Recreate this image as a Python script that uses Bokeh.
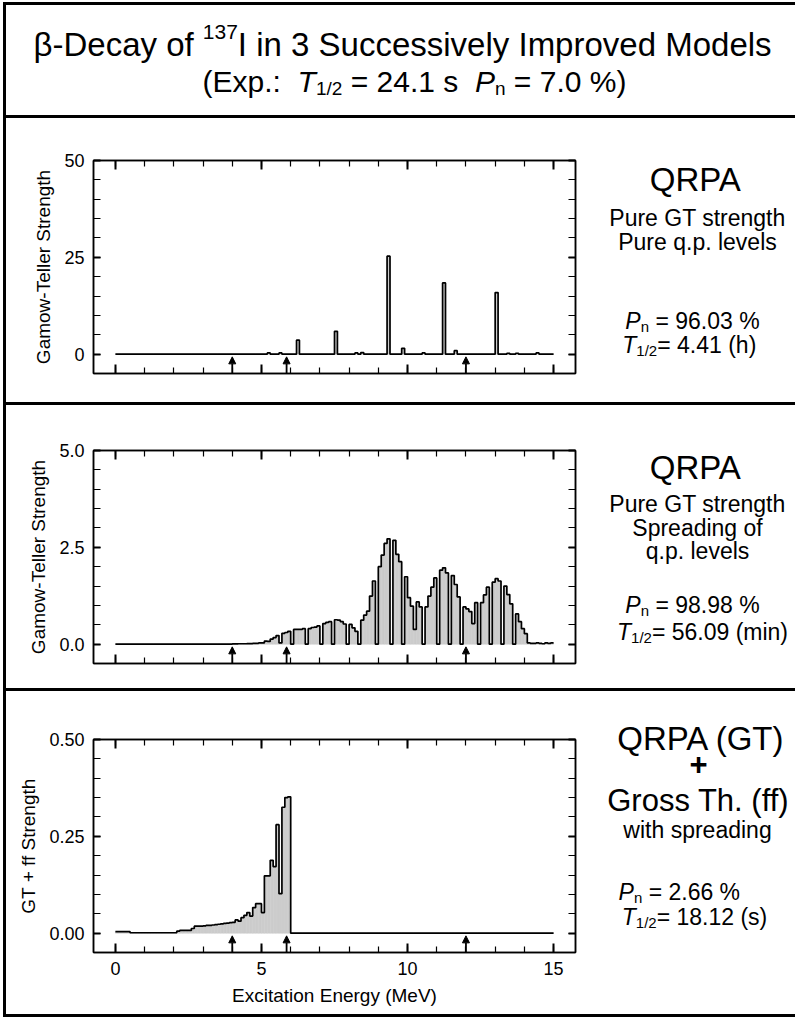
import numpy as np
from bokeh.plotting import figure
from bokeh.models import (Range1d, LinearAxis, FixedTicker, Label, Arrow, NormalHead,
                          Spacer, ColumnDataSource, NumeralTickFormatter, CustomJSTickFormatter)
from bokeh.layouts import column, row
from bokeh.embed import file_html
from bokeh.resources import INLINE

# ---------------- data ----------------
BIN_WIDTH = 0.1
N_BINS = 150            # 0 .. 15 MeV
X_TICKS = [0, 5, 10, 15]
ARROWS_E = [4.0, 5.86, 12.0]

# Panel 1: QRPA, pure GT strength, pure q.p. levels (bin start energy, strength)
P1_E = [5.2, 5.6, 6.2, 7.5, 8.2, 8.4, 9.3, 9.8, 10.5, 11.2, 11.6, 13.0, 13.4, 13.7, 14.4]
P1_S = [0.3, 0.3, 3.6, 5.9, 0.3, 0.4, 25.3, 1.5, 0.3, 18.4, 0.9, 15.9, 0.2, 0.2, 0.3]

# Panel 2: QRPA with spreading, bins of 0.1 MeV starting at 4.0 MeV
P2_START = 4.0
P2_S = [0.005, 0.005, 0.01, 0.01, 0.01, 0.015, 0.015, 0.02, 0.02, 0.03,
        0.03, 0.08, 0.07, 0.13, 0.17, 0.22, 0.03, 0.28, 0.30, 0.33,
        0.0, 0.38, 0.38, 0.38, 0.40, 0.0, 0.40, 0.43, 0.44, 0.47,
        0.0, 0.53, 0.56, 0.58, 0.0, 0.63, 0.62, 0.58, 0.52, 0.0,
        0.51, 0.42, 0.33, 0.0, 0.62, 0.75, 0.85, 1.24, 1.63, 0.0,
        2.0, 2.3, 2.6, 2.72, 0.0, 2.68, 2.32, 2.13, 0.0, 1.74,
        1.2, 0.98, 0.38, 1.09, 0.96, 0.0, 0.96, 1.24, 1.47, 1.71,
        0.0, 1.91, 1.97, 1.84, 0.0, 1.77, 1.54, 1.22, 0.0, 0.96,
        0.91, 0.84, 0.53, 1.07, 0.0, 1.07, 1.27, 1.47, 0.0, 1.60,
        1.69, 1.63, 0.0, 1.50, 1.28, 1.04, 0.0, 0.78, 0.58, 0.40,
        0.27, 0.03, 0.02, 0.02, 0.03, 0.02, 0.01, 0.03, 0.02, 0.03]

# Panel 3: QRPA (GT) + Gross Theory (ff), bins of 0.1 MeV starting at 0 MeV
P3_START = 0.0
P3_S = [0.004, 0.004, 0.004, 0.004, 0.004,
        0.001, 0.001, 0.001, 0.001, 0.001, 0.001, 0.001, 0.001,
        0.001, 0.001, 0.001, 0.001, 0.001, 0.001, 0.001, 0.001,
        0.005, 0.007, 0.007, 0.007, 0.007, 0.012, 0.018, 0.018, 0.018,
        0.019, 0.020, 0.020, 0.021, 0.022, 0.023, 0.024, 0.025, 0.026, 0.027,
        0.028, 0.034, 0.031, 0.040, 0.046, 0.053, 0.044, 0.066, 0.076, 0.076,
        0.053, 0.148, 0.148, 0.188, 0.172, 0.28, 0.102, 0.325, 0.35, 0.352]

P_YMAX = [50.0, 5.0, 0.5]
P_YFMT = ["0", "0.0", "0.00"]
P_YLABEL = ["Gamow-Teller Strength", "Gamow-Teller Strength", "GT + ff Strength"]

# ---------------- styling / layout ----------------
FONT = "Liberation Sans"
INNER_W = 789
FRAME_L = 87
FRAME_W = 482
FRAME_R = 30
FRAME_H = 213
TEXT_W = INNER_W - FRAME_L - FRAME_W - FRAME_R
TEXT_X0 = 6 + FRAME_L + FRAME_W + FRAME_R
FILL = "#cccccc"
TICK_FS = "18px"
LABEL_FS = "19px"
BASE_FIX = 0.36   # label baseline correction (fraction of font size)

AW = {' ': 278, '!': 278, '%': 889, '(': 333, ')': 333, '+': 584, ',': 278, '-': 333,
      '.': 278, '/': 278, ':': 278, '=': 584, 'β': 575,
      'A': 667, 'B': 667, 'C': 722, 'D': 722, 'E': 667, 'F': 611, 'G': 778, 'H': 722,
      'I': 278, 'J': 500, 'K': 667, 'L': 556, 'M': 833, 'N': 722, 'O': 778, 'P': 667,
      'Q': 778, 'R': 722, 'S': 667, 'T': 611, 'U': 722, 'V': 667, 'W': 944, 'X': 667,
      'Y': 667, 'Z': 611,
      'a': 556, 'b': 556, 'c': 500, 'd': 556, 'e': 556, 'f': 278, 'g': 556, 'h': 556,
      'i': 222, 'j': 222, 'k': 500, 'l': 222, 'm': 833, 'n': 556, 'o': 556, 'p': 556,
      'q': 556, 'r': 333, 's': 500, 't': 278, 'u': 556, 'v': 500, 'w': 722, 'x': 500,
      'y': 500, 'z': 500}


def tw(s, size):
    return sum(AW.get(c, 556) for c in s) * size / 1000.0


def rich(p, segs, cx, base, fl, fb):
    """segs: (text, size, style, dy). cx/base in page px; fl/fb = page px of data x=0 / y=0."""
    total = sum(tw(t, s) for t, s, st, dy in segs)
    big = max(s for t, s, st, dy in segs)
    x = cx - total / 2.0
    for t, s, st, dy in segs:
        lead = len(t) - len(t.lstrip(' '))
        txt = t.strip(' ')
        if txt:
            p.add_layout(Label(x=x + tw(' ' * lead, s) - fl,
                               y=fb - base + dy + BASE_FIX * big, text=txt,
                               text_font=FONT, text_font_size=f"{s}px", text_font_style=st,
                               text_align="left", text_baseline="alphabetic",
                               text_color="black"))
        x += tw(t, s)


def text_fig(w, h, ytop=0, ybot=0, yspan=None):
    yspan = h if yspan is None else yspan
    f = figure(width=w, height=h, x_range=Range1d(0, w), y_range=Range1d(0, yspan),
               x_axis_location=None, y_axis_location=None,
               min_border_left=0, min_border_right=0,
               min_border_top=ytop, min_border_bottom=ybot,
               output_backend="svg", toolbar_location=None, tools="")
    f.outline_line_color = None
    f.grid.visible = False
    f.title.visible = False
    f.background_fill_color = "white"
    f.border_fill_color = "white"
    return f


def full_bins(start, vals):
    arr = np.zeros(N_BINS)
    i0 = int(round(start / BIN_WIDTH))
    arr[i0:i0 + len(vals)] = vals
    return arr


def style_axis(ax, major_in, minor_in, labels):
    ax.axis_line_color = "black"
    ax.axis_line_width = 1.5
    ax.major_tick_in = major_in
    ax.major_tick_out = 0
    ax.minor_tick_in = minor_in
    ax.minor_tick_out = 0
    ax.major_tick_line_color = "black"
    ax.minor_tick_line_color = "black"
    ax.major_tick_line_width = 2
    ax.minor_tick_line_width = 1.2
    ax.major_label_text_font = FONT
    ax.major_label_text_font_size = TICK_FS
    ax.major_label_text_color = "black"
    ax.major_label_standoff = 9
    ax.axis_label_text_font = FONT
    ax.axis_label_text_font_size = LABEL_FS
    ax.axis_label_text_font_style = "normal"
    ax.axis_label_text_color = "black"
    ax.axis_label_standoff = 7
    if not labels:
        ax.formatter = CustomJSTickFormatter(code="return ''")


def make_panel(k, vals, height, top, xlabels):
    ymax = P_YMAX[k]
    ymin = -0.1 * ymax
    p = figure(frame_width=FRAME_W, frame_height=FRAME_H,
               x_range=Range1d(-0.75, 15.75), y_range=Range1d(ymin, ymax),
               min_border_left=FRAME_L, min_border_right=FRAME_R,
               min_border_top=top, min_border_bottom=height - top - FRAME_H,
               output_backend="svg", toolbar_location=None, tools="")
    p.xgrid.visible = False
    p.ygrid.visible = False
    p.outline_line_color = "black"
    p.outline_line_width = 1.5
    p.background_fill_color = "white"
    p.border_fill_color = "white"

    xt = FixedTicker(ticks=X_TICKS, minor_ticks=list(range(16)))
    yt = FixedTicker(ticks=[0, ymax / 2, ymax], minor_ticks=[ymax * i / 10 for i in range(11)])

    bx = p.xaxis[0]
    bx.ticker = xt
    style_axis(bx, 9, 6, xlabels)
    if xlabels:
        bx.axis_label = "Excitation Energy (MeV)"
    ly = p.yaxis[0]
    ly.ticker = yt
    ly.formatter = NumeralTickFormatter(format=P_YFMT[k])
    style_axis(ly, 7, 7, True)
    ly.axis_label = P_YLABEL[k]

    ta = LinearAxis(ticker=xt)
    style_axis(ta, 9, 6, False)
    p.add_layout(ta, "above")
    ra = LinearAxis(ticker=yt)
    style_axis(ra, 7, 7, False)
    p.add_layout(ra, "right")

    edges = np.round(np.arange(N_BINS + 1) * BIN_WIDTH, 4)
    src = ColumnDataSource(dict(left=edges[:-1], right=edges[1:], top=vals))
    p.quad(left="left", right="right", bottom=0, top="top", source=src,
           fill_color=FILL, line_color=FILL, line_width=0.6)
    p.step(x=edges, y=np.append(vals, vals[-1]), mode="after",
           line_color="black", line_width=1.7)

    asrc = ColumnDataSource(dict(x=ARROWS_E, y0=[ymin] * len(ARROWS_E),
                                 y1=[-0.014 * ymax] * len(ARROWS_E)))
    p.add_layout(Arrow(end=NormalHead(size=7, fill_color="black", line_color="black", line_width=1),
                       x_start="x", y_start="y0", x_end="x", y_end="y1", source=asrc,
                       line_color="black", line_width=1.8))
    return p


def black(w, h):
    return Spacer(width=w, height=h, styles={"background-color": "black"})


def white(w, h):
    return Spacer(width=w, height=h)


N = "normal"
I = "italic"
QF = 33
BIG = 31
MID = 23
SUB = 15

# ---- title ----
tf = text_fig(INNER_W, 110)
rich(tf, [("β-Decay of ", 33, N, 0), ("137", 21, N, 13),
          ("I in 3 Successively Improved Models", 33, N, 0)], 402, 56, 6, 115)
rich(tf, [("(Exp.:  ", 30, N, 0), ("T", 30, I, 0), ("1/2", 19, N, -7),
          (" = 24.1 s  ", 30, N, 0), ("P", 30, I, 0), ("n", 19, N, -7),
          (" = 7.0 %)", 30, N, 0)], 414, 92, 6, 115)

# ---- panels ----
v1 = np.zeros(N_BINS)
for e, s in zip(P1_E, P1_S):
    v1[int(round(e / BIN_WIDTH))] = s
v2 = full_bins(P2_START, P2_S)
v3 = full_bins(P3_START, P3_S)

t1 = [([("QRPA", QF, N, 0)], 696, 191),
      ([("Pure GT strength", MID, N, 0)], 697, 226),
      ([("Pure q.p. levels", MID, N, 0)], 697, 250),
      ([("P", MID, I, 0), ("n", SUB, N, -5), (" = 96.03 %", MID, N, 0)], 692, 329),
      ([("T", MID, I, 0), ("1/2", SUB, N, -5), ("=  4.41 (h)", MID, N, 0)], 692, 353)]
t2 = [([("QRPA", QF, N, 0)], 696, 479),
      ([("Pure GT strength", MID, N, 0)], 697, 512),
      ([("Spreading of", MID, N, 0)], 697, 536),
      ([("q.p. levels", MID, N, 0)], 697, 559),
      ([("P", MID, I, 0), ("n", SUB, N, -5), (" = 98.98 %", MID, N, 0)], 692, 613),
      ([("T", MID, I, 0), ("1/2", SUB, N, -5), ("= 56.09 (min)", MID, N, 0)], 702, 640)]
t3 = [([("QRPA (GT)", QF, N, 0)], 702, 750),
      ([("+", BIG, "bold", 0)], 698, 775),
      ([("Gross Th. (ff)", BIG, N, 0)], 698, 811),
      ([("with spreading", MID, N, 0)], 697, 838),
      ([("P", MID, I, 0), ("n", SUB, N, -5), (" =  2.66 %", MID, N, 0)], 682, 900),
      ([("T", MID, I, 0), ("1/2", SUB, N, -5), ("= 18.12 (s)", MID, N, 0)], 694, 925)]

SECTIONS = [(284, 42, 118, v1, t1), (283, 45, 405, v2, t2), (323, 48, 691, v3, t3)]

rows = []
for k, (h, top, sec_top, vals, texts) in enumerate(SECTIONS):
    p = make_panel(k, vals, h, top, k == 2)
    # text figure whose frame is the whole section; panel wrapped so frames are not aligned
    f = text_fig(TEXT_W, h)
    for segs, cx, base in texts:
        rich(f, segs, cx, base, TEXT_X0, sec_top + h)
    rows.append(row(white(3, h), black(3, h), column(p), f))

layout = column(
    white(795, 2),
    row(white(3, 3), black(792, 3)),
    row(white(3, 110), black(3, 110), tf),
    row(white(3, 3), black(792, 3)),
    rows[0],
    row(white(3, 3), black(792, 3)),
    rows[1],
    row(white(3, 3), black(792, 3)),
    rows[2],
    row(white(3, 3), black(792, 3)),
)

open("out.html", "w").write(file_html(layout, INLINE))
